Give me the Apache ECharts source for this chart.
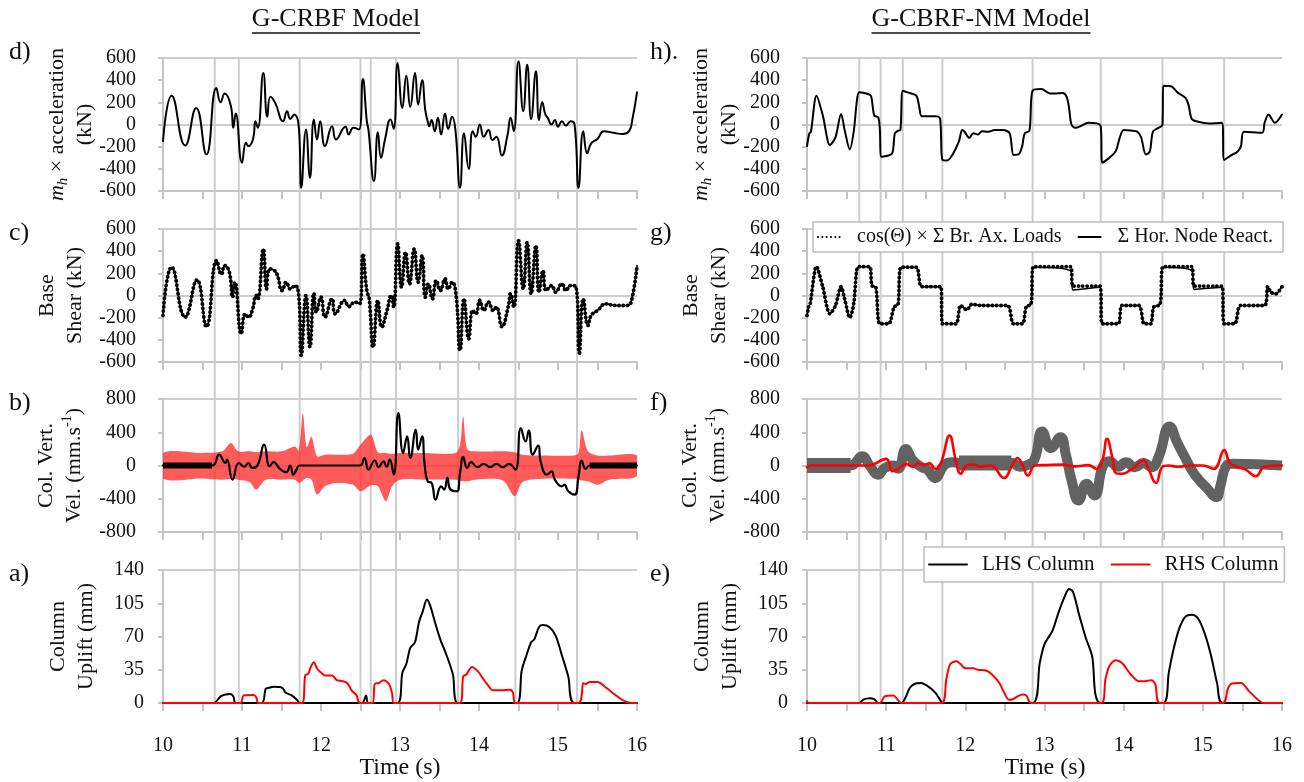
<!DOCTYPE html>
<html>
<head>
<meta charset="utf-8">
<script src="https://cdn.jsdelivr.net/npm/echarts@6/dist/echarts.min.js"></script>
<style>
html,body{margin:0;padding:0;background:#fff;}
#chart{width:1304px;height:782px;}
</style>
</head>
<body>
<div id="chart"></div>
<script>
// ---------- axis ranges ----------
const timeRange = [10, 16];
const forceRange = [-600, 600, 200];
const velRange = [-800, 800, 400];
const upliftRange = [0, 140, 35];

// ---------- event markers (s) ----------
const eventTimesL = [10.655, 10.96, 11.73, 12.50, 12.63, 12.95, 13.735, 14.46, 15.24];
const eventTimesR = [10.66, 10.93, 11.21, 11.71, 12.85, 13.71, 14.49, 15.27];

// ---------- G-CRBF: m_h x acceleration (kN) ----------
const accelL = [[10.0,-150],[10.11,260],[10.28,-190],[10.42,150],[10.55,-270],[10.675,330],[10.73,200],[10.78,280],[10.86,165],[10.89,-30],[10.92,100],[11.0,-345],[11.05,-165],[11.08,-195],[11.14,-130],[11.17,30],[11.2,-30],[11.27,465],[11.32,70],[11.36,250],[11.42,195],[11.52,30],[11.57,120],[11.61,50],[11.66,90],[11.72,-30],[11.75,-570],[11.81,-45],[11.86,-480],[11.91,45],[11.95,-135],[11.99,30],[12.05,-195],[12.14,-15],[12.19,-135],[12.31,-20],[12.35,-90],[12.41,-30],[12.48,-45],[12.53,410],[12.58,30],[12.6,-45],[12.67,-510],[12.72,-70],[12.76,-300],[12.81,-135],[12.88,45],[12.92,-40],[12.97,555],[13.03,150],[13.08,440],[13.13,160],[13.19,465],[13.23,180],[13.28,400],[13.32,130],[13.35,30],[13.37,-15],[13.40,40],[13.44,-60],[13.48,60],[13.52,-90],[13.57,100],[13.61,-40],[13.66,70],[13.70,-40],[13.76,-570],[13.81,-80],[13.87,-400],[13.92,-60],[13.96,-110],[14.01,0],[14.06,-110],[14.12,-50],[14.17,-140],[14.22,-110],[14.29,-280],[14.36,-100],[14.40,60],[14.44,-60],[14.50,570],[14.56,120],[14.61,540],[14.66,50],[14.72,480],[14.76,40],[14.80,200],[14.84,90],[14.87,60],[14.92,0],[14.96,40],[15.0,-20],[15.05,30],[15.1,-10],[15.16,30],[15.21,0],[15.26,-570],[15.32,-60],[15.37,-260],[15.42,-170],[15.50,-130],[15.58,-60],[15.70,-75],[15.82,-85],[15.90,-60],[15.94,40],[16.0,290]];

// ---------- G-CRBF: base shear (kN), brace and node sums coincide ----------
const shearL = [[10.0,-180],[10.11,255],[10.28,-195],[10.43,140],[10.55,-280],[10.68,315],[10.74,190],[10.78,270],[10.84,210],[10.88,-15],[10.91,120],[10.99,-345],[11.04,-165],[11.08,-195],[11.13,-135],[11.18,0],[11.20,-30],[11.27,420],[11.31,60],[11.35,240],[11.43,210],[11.51,45],[11.56,120],[11.61,60],[11.67,90],[11.72,-15],[11.75,-540],[11.81,0],[11.86,-465],[11.91,20],[11.94,-150],[12.0,-15],[12.05,-195],[12.14,-30],[12.18,-165],[12.30,-45],[12.35,-100],[12.43,-60],[12.49,-75],[12.53,375],[12.58,45],[12.61,-30],[12.66,-465],[12.72,-45],[12.77,-285],[12.83,-150],[12.89,0],[12.92,-105],[12.97,465],[13.02,75],[13.07,390],[13.12,105],[13.18,420],[13.23,120],[13.28,360],[13.32,-15],[13.36,105],[13.41,-30],[13.46,135],[13.51,45],[13.57,150],[13.61,60],[13.66,120],[13.71,0],[13.76,-495],[13.81,-30],[13.87,-390],[13.92,-135],[13.96,-165],[14.01,-45],[14.06,-135],[14.12,-60],[14.18,-135],[14.22,-105],[14.29,-280],[14.37,-100],[14.40,15],[14.44,-105],[14.50,495],[14.56,60],[14.61,480],[14.66,15],[14.72,450],[14.76,30],[14.81,225],[14.85,45],[14.92,90],[14.97,30],[15.05,105],[15.10,45],[15.16,90],[15.23,75],[15.27,-520],[15.32,-30],[15.38,-270],[15.42,-180],[15.50,-135],[15.61,-75],[15.72,-90],[15.88,-90],[15.93,-45],[16.0,270]];

// ---------- G-CRBF: column vertical velocity (mm/s) ----------
const rhsVelBandT  = [10.0,10.5,10.75,10.86,10.95,11.1,11.18,11.3,11.5,11.67,11.72,11.77,11.82,11.88,11.95,12.05,12.2,12.4,12.5,12.63,12.72,12.82,12.9,13.0,13.3,13.7,13.76,13.8,13.85,13.95,14.3,14.45,14.55,14.8,15.2,15.26,15.3,15.38,15.5,15.65,16.0];
const rhsVelBandHi = [150,150,170,270,170,170,160,170,170,230,180,630,220,345,110,130,130,140,250,370,160,150,140,150,150,150,250,590,200,170,170,160,130,120,120,150,425,170,120,120,120];
const rhsVelBandLo = [-155,-155,-170,-160,-170,-200,-290,-170,-170,-170,-210,-180,-150,-170,-350,-250,-210,-230,-310,-240,-250,-430,-250,-170,-170,-170,-180,-190,-190,-170,-180,-370,-200,-160,-160,-170,-180,-190,-230,-170,-130];
const lhsVelL = [[10.0,0],[10.62,0],[10.71,130],[10.79,30],[10.81,70],[10.88,-170],[10.96,30],[11.03,-15],[11.08,30],[11.13,-30],[11.2,10],[11.28,250],[11.35,-10],[11.40,40],[11.48,-40],[11.56,-80],[11.61,0],[11.65,-110],[11.69,-50],[11.73,0],[12.49,0],[12.55,90],[12.60,-50],[12.68,60],[12.73,-20],[12.79,50],[12.83,-15],[12.87,70],[12.92,-110],[12.98,630],[13.04,150],[13.09,350],[13.13,90],[13.20,430],[13.23,190],[13.28,350],[13.31,30],[13.35,-190],[13.40,-210],[13.45,-410],[13.52,-250],[13.56,-290],[13.60,-150],[13.64,-290],[13.72,-310],[13.76,-90],[13.80,105],[13.85,-30],[13.90,40],[13.98,-20],[14.06,20],[14.14,-20],[14.22,20],[14.30,-20],[14.38,20],[14.46,-50],[14.53,450],[14.59,290],[14.63,420],[14.68,130],[14.75,240],[14.78,50],[14.86,-110],[14.92,-70],[14.96,-170],[15.05,-250],[15.08,-230],[15.13,-310],[15.21,-350],[15.26,-130],[15.30,60],[15.35,-40],[15.40,0],[16.0,0]];
// spans [start, end, level] where the trace chatters about a steady level
const lhsVelNoiseL = [[10.0, 10.62, 0], [15.40, 16.0, 0]];

// ---------- G-CRBF: column uplift (mm) ----------
const lhsUpL = [[10,0],[10.64,0],[10.73,7],[10.79,9],[10.85,9.5],[10.89,7],[10.92,0],[11.25,0],[11.30,15],[11.34,16],[11.40,17],[11.51,16],[11.55,11],[11.63,8],[11.70,3],[11.73,0],[12.52,0],[12.57,8],[12.60,0],[12.97,0],[13.03,32],[13.08,41],[13.13,58],[13.19,64],[13.24,85],[13.29,97],[13.34,109],[13.38,103],[13.45,83],[13.51,67],[13.59,50],[13.67,30],[13.73,0],[14.48,0],[14.54,34],[14.60,50],[14.66,64],[14.70,67],[14.76,80],[14.81,82],[14.89,80],[14.97,71],[15.05,50],[15.13,28],[15.21,0],[16,0]];
const rhsUpL = [[10,0],[10.98,0],[11.02,8],[11.15,8.5],[11.18,6],[11.21,0],[11.76,0],[11.80,29],[11.84,31],[11.87,38],[11.91,43],[11.95,36],[12.0,32],[12.05,29],[12.14,29],[12.20,24],[12.27,23],[12.33,21],[12.39,13],[12.45,8],[12.49,0],[12.65,0],[12.68,20],[12.73,21],[12.79,24],[12.86,20],[12.90,10],[12.92,0],[13.76,0],[13.80,28],[13.84,30],[13.91,38],[13.99,33],[14.04,27],[14.12,18],[14.17,13.5],[14.28,13.5],[14.39,14],[14.43,11],[14.46,0],[15.26,0],[15.32,21],[15.35,20],[15.40,22],[15.50,22],[15.61,16],[15.72,9],[15.82,3],[15.93,0],[16,0]];

// ---------- G-CBRF-NM: m_h x acceleration (kN) ----------
const accelR = [[10.0,-195],[10.03,-80],[10.05,-65],[10.12,260],[10.20,80],[10.29,-185],[10.36,-115],[10.43,95],[10.48,-65],[10.54,-225],[10.59,-65],[10.63,210],[10.66,290],[10.77,275],[10.81,255],[10.85,80],[10.90,65],[10.92,-40],[10.94,-290],[11.03,-280],[11.08,-255],[11.11,-80],[11.15,-55],[11.18,-50],[11.21,305],[11.27,290],[11.38,260],[11.42,150],[11.45,75],[11.62,75],[11.68,55],[11.71,-320],[11.77,-325],[11.84,-270],[11.92,-150],[11.96,-50],[11.99,-65],[12.05,-120],[12.10,-80],[12.16,-90],[12.21,-60],[12.29,-65],[12.37,-50],[12.48,-50],[12.56,-80],[12.61,-275],[12.68,-265],[12.72,-190],[12.75,-80],[12.81,-55],[12.85,305],[12.96,320],[13.07,280],[13.12,280],[13.23,285],[13.28,250],[13.31,150],[13.34,0],[13.39,-30],[13.47,-10],[13.55,15],[13.66,10],[13.71,-15],[13.73,-345],[13.82,-300],[13.90,-240],[13.95,-120],[14.0,-50],[14.09,-55],[14.17,-65],[14.22,-115],[14.28,-270],[14.33,-245],[14.37,-65],[14.44,-30],[14.49,-5],[14.50,350],[14.60,345],[14.68,290],[14.78,240],[14.82,175],[14.86,50],[14.94,25],[15.08,10],[15.24,15],[15.27,-320],[15.35,-280],[15.43,-250],[15.48,-200],[15.52,-65],[15.75,-75],[15.78,15],[15.83,90],[15.91,15],[16.0,90]];

// ---------- G-CBRF-NM: base shear (kN) ----------
const braceShearR = [[10.0,-180],[10.02,-105],[10.04,-75],[10.12,260],[10.20,75],[10.29,-165],[10.36,-90],[10.43,80],[10.48,-45],[10.54,-200],[10.59,-75],[10.63,240],[10.66,260],[10.79,260],[10.82,90],[10.87,75],[10.92,-255],[11.03,-255],[11.10,-105],[11.15,-80],[11.19,255],[11.38,255],[11.45,80],[11.69,80],[11.71,-255],[11.88,-255],[11.94,-90],[12.02,-130],[12.08,-80],[12.21,-90],[12.53,-90],[12.61,-255],[12.72,-255],[12.77,-100],[12.83,-80],[12.86,260],[13.33,260],[13.36,85],[13.70,85],[13.73,-255],[13.93,-255],[13.98,-90],[14.19,-90],[14.26,-255],[14.34,-255],[14.38,-105],[14.46,-80],[14.50,260],[14.86,260],[14.89,85],[15.24,85],[15.27,-255],[15.40,-255],[15.48,-90],[15.78,-90],[15.82,80],[15.86,30],[15.92,15],[16.0,80]];
const nodeShearR  = [[10.0,-180],[10.02,-105],[10.04,-75],[10.12,260],[10.20,75],[10.29,-165],[10.36,-90],[10.43,80],[10.48,-45],[10.54,-200],[10.59,-75],[10.63,240],[10.66,260],[10.79,260],[10.82,90],[10.87,75],[10.92,-255],[11.03,-255],[11.10,-105],[11.15,-80],[11.19,255],[11.38,255],[11.45,80],[11.69,80],[11.71,-255],[11.88,-255],[11.94,-90],[12.02,-130],[12.08,-80],[12.21,-90],[12.53,-90],[12.61,-255],[12.72,-255],[12.77,-100],[12.83,-80],[12.86,255],[13.33,222],[13.36,50],[13.70,75],[13.73,-255],[13.93,-255],[13.98,-90],[14.19,-90],[14.26,-255],[14.34,-255],[14.38,-105],[14.46,-80],[14.50,255],[14.86,225],[14.89,55],[15.24,75],[15.27,-255],[15.40,-255],[15.48,-90],[15.78,-90],[15.82,80],[15.86,30],[15.92,15],[16.0,80]];

// ---------- G-CBRF-NM: column vertical velocity (mm/s) ----------
const lhsVelR = [[10.0,0],[10.55,0],[10.70,110],[10.79,0],[10.90,-110],[10.98,-30],[11.09,0],[11.15,-40],[11.25,200],[11.33,70],[11.44,-15],[11.52,-50],[11.62,-150],[11.73,0],[11.84,40],[11.94,30],[12.59,30],[12.69,-15],[12.80,10],[12.88,90],[12.97,410],[13.08,210],[13.20,340],[13.27,130],[13.34,-170],[13.43,-420],[13.53,-220],[13.63,-360],[13.74,0],[13.82,50],[13.93,-15],[14.03,40],[14.14,-20],[14.25,30],[14.35,-20],[14.44,100],[14.58,470],[14.68,270],[14.79,70],[14.87,-70],[14.95,-170],[15.05,-270],[15.17,-380],[15.22,-250],[15.29,-15],[15.37,20],[16.0,0]];
const lhsVelNoiseR = [[10.0, 10.55, 0], [11.92, 12.58, 30]];
const rhsVelR = [[10.0,-20],[10.05,0],[10.77,0],[11.0,80],[11.08,-70],[11.15,-40],[11.26,20],[11.33,-15],[11.41,25],[11.47,5],[11.55,25],[11.62,-40],[11.69,25],[11.80,360],[11.88,60],[11.94,-100],[12.02,0],[12.10,10],[12.19,-15],[12.32,0],[12.49,-150],[12.59,0],[12.66,90],[12.72,10],[12.79,-120],[12.88,0],[13.02,5],[13.23,10],[13.39,-10],[13.55,5],[13.66,-40],[13.73,60],[13.79,320],[13.86,80],[13.90,-90],[13.98,-100],[14.09,-50],[14.17,10],[14.25,70],[14.30,-10],[14.41,-210],[14.49,-15],[14.57,0],[14.68,-15],[14.84,0],[15.0,0],[15.14,-40],[15.27,185],[15.34,30],[15.43,-15],[15.54,-50],[15.67,-130],[15.78,-15],[16.0,0]];

// ---------- G-CBRF-NM: column uplift (mm) ----------
const lhsUpR = [[10,0],[10.66,0],[10.71,3.5],[10.79,5],[10.85,4],[10.90,0],[11.19,0],[11.24,5],[11.30,16],[11.37,20.5],[11.44,21],[11.52,18],[11.62,11],[11.69,2],[11.70,0],[12.85,0],[12.94,42],[13.0,62],[13.10,76],[13.18,96],[13.26,113],[13.31,120],[13.36,117],[13.44,92],[13.52,69],[13.60,50],[13.71,0],[14.50,0],[14.57,32],[14.62,53],[14.70,78],[14.78,91],[14.86,93],[14.94,89],[15.02,74],[15.10,51],[15.18,21],[15.25,0],[16,0]];
const rhsUpR = [[10,2],[10.02,0],[10.92,0],[10.98,7],[11.09,8],[11.15,3],[11.19,0],[11.70,0],[11.76,25],[11.81,41],[11.89,44],[11.94,41],[12.0,36.5],[12.10,36.5],[12.16,35],[12.27,34],[12.35,29],[12.43,21],[12.49,11],[12.55,3.5],[12.60,4],[12.66,7],[12.72,9],[12.77,8],[12.83,0],[13.72,0],[13.77,25],[13.82,39],[13.90,45],[13.98,42],[14.09,30],[14.19,23],[14.27,23],[14.35,24],[14.40,19.5],[14.46,0],[15.25,0],[15.32,16],[15.37,20.5],[15.48,21],[15.59,12],[15.69,4],[15.77,0],[16,0]];

// ---------- series names ----------
const BRACE = 'cos(Θ) × Σ Br. Ax. Loads';
const NODE = 'Σ Hor. Node React.';
const LHS = 'LHS Column';
const RHS = 'RHS Column';

// ---------- layout ----------
const FONT = "'Liberation Serif', 'Times New Roman', serif";
const GRID_LEFT = [163, 807];
const GRID_W = [474, 475];
const ROW_TOP = [58, 229, 399, 570];
const ROW_H = 133;
const AXIS_GREY = '#c4c4c4';
const GRID_GREY = '#cdcdcd';
const TEXT = '#111';

const panelDefs = [
  {col:0,row:0,range:forceRange},
  {col:0,row:1,range:forceRange},
  {col:0,row:2,range:velRange},
  {col:0,row:3,range:upliftRange},
  {col:1,row:0,range:forceRange},
  {col:1,row:1,range:forceRange},
  {col:1,row:2,range:velRange},
  {col:1,row:3,range:upliftRange}
];

const grid = [], xAxis = [], yAxis = [];
panelDefs.forEach((p, i) => {
  grid.push({left:GRID_LEFT[p.col], top:ROW_TOP[p.row], width:GRID_W[p.col], height:ROW_H,
             containLabel:false, outerBoundsMode:'none'});
  xAxis.push({
    type:'value', gridIndex:i, min:timeRange[0], max:timeRange[1], interval:0.5,
    axisLine:{onZero:false, lineStyle:{color:AXIS_GREY, width:2}},
    axisTick:{length:8, lineStyle:{color:AXIS_GREY, width:2}},
    splitLine:{show:false},
    axisLabel:{show:p.row === 3, margin:33, fontSize:20, fontFamily:FONT, color:TEXT,
               showMinLabel:true, showMaxLabel:true,
               formatter:v => Number.isInteger(v) ? String(v) : ''}
  });
  // labelled axis
  yAxis.push({
    type:'value', gridIndex:i, min:p.range[0], max:p.range[1], interval:p.range[2],
    axisLine:{show:true, onZero:false, lineStyle:{color:AXIS_GREY, width:2}},
    axisTick:{show:true, length:5, lineStyle:{color:AXIS_GREY, width:2}},
    splitLine:{show:false},
    axisLabel:{margin:p.row === 3 ? 19 : 27, fontSize:20, fontFamily:FONT, color:TEXT}
  });
  // reference lines at zero and at the top of the range
  yAxis.push({
    type:'value', gridIndex:i, min:p.range[0], max:p.range[1], interval:p.range[1],
    axisLine:{show:false}, axisTick:{show:false}, axisLabel:{show:false},
    splitLine:{show:true, lineStyle:{color:GRID_GREY, width:2}}
  });
});

// full-height grids for the event markers in each column
const overlayGrid = [];
[0, 1].forEach(c => {
  const gi = grid.length;
  grid.push({left:GRID_LEFT[c], top:ROW_TOP[0], width:GRID_W[c], height:ROW_TOP[3] + ROW_H - ROW_TOP[0],
             containLabel:false, outerBoundsMode:'none'});
  xAxis.push({type:'value', gridIndex:gi, min:timeRange[0], max:timeRange[1], show:false});
  yAxis.push({type:'value', gridIndex:gi, min:0, max:1, show:false});
  overlayGrid.push({x:xAxis.length - 1, y:yAxis.length - 1});
});

function eventSeries(times, c) {
  return {
    type:'custom', xAxisIndex:overlayGrid[c].x, yAxisIndex:overlayGrid[c].y, silent:true, z:1,
    data:times.map(t => [t, 0]),
    renderItem:(params, api) => {
      const a = api.coord([api.value(0), 0]);
      const b = api.coord([api.value(0), 1]);
      return {type:'line', shape:{x1:a[0], y1:a[1], x2:b[0], y2:b[1]},
              style:{stroke:GRID_GREY, lineWidth:2}};
    }
  };
}

function lineSeries(name, gi, data, color, width, extra) {
  return Object.assign({
    type:'line', name:name, xAxisIndex:gi, yAxisIndex:2 * gi, data:data,
    symbol:'none', showSymbol:false, smooth:0.5, silent:true, z:3,
    lineStyle:{color:color, width:width, cap:'round', join:'round'},
    itemStyle:{color:color}
  }, extra || {});
}

// filled envelope between an upper and a lower trace
function bandSeries(name, gi, t, hi, lo, color) {
  return {
    type:'custom', name:name, xAxisIndex:gi, yAxisIndex:2 * gi, silent:true, z:2, clip:true,
    data:[[t[0], 0]],
    renderItem:(params, api) => {
      const pts = [];
      t.forEach((x, k) => pts.push(api.coord([x, hi[k]])));
      for (let k = t.length - 1; k >= 0; k--) pts.push(api.coord([t[k], lo[k]]));
      return {type:'polygon', shape:{points:pts, smooth:0.3}, style:{fill:color}};
    }
  };
}

// thick strokes along spans where a trace chatters about a steady level
function noiseData(spans) {
  const out = [];
  spans.forEach(s => { out.push([s[0], s[2]], [s[1], s[2]], [s[1], '-']); });
  return out;
}

const dotted = {type:[0.1, 4.2], cap:'round', color:'#000', width:3.8};
const GREY_TRACE = '#626262';

const series = [
  eventSeries(eventTimesL, 0),
  eventSeries(eventTimesR, 1),
  // d) G-CRBF acceleration
  lineSeries('accel G-CRBF', 0, accelL, '#000', 2),
  // c) G-CRBF base shear
  lineSeries(NODE, 1, shearL, '#000', 1.6),
  lineSeries(BRACE, 1, shearL, '#000', 3.8, {lineStyle:dotted}),
  // b) G-CRBF column vertical velocity
  bandSeries('RHS vel G-CRBF', 2, rhsVelBandT, rhsVelBandHi, rhsVelBandLo, 'rgba(255,45,45,0.78)'),
  lineSeries('LHS vel G-CRBF', 2, lhsVelL, '#000', 2.2),
  lineSeries('LHS vel noise G-CRBF', 2, noiseData(lhsVelNoiseL), '#000', 6, {smooth:false, lineStyle:{color:'#000', width:6, cap:'butt'}}),
  // a) G-CRBF uplift
  lineSeries(LHS, 3, lhsUpL, '#000', 2, {smooth:0.3}),
  lineSeries(RHS, 3, rhsUpL, '#ff0000', 2, {smooth:0.3}),
  // h) G-CBRF-NM acceleration
  lineSeries('accel G-CBRF-NM', 4, accelR, '#000', 2, {smooth:0.3}),
  // g) G-CBRF-NM base shear
  lineSeries(NODE, 5, nodeShearR, '#000', 1.6, {smooth:0.3}),
  lineSeries(BRACE, 5, braceShearR, '#000', 3.8, {smooth:0.3, lineStyle:dotted}),
  // f) G-CBRF-NM column vertical velocity
  lineSeries('LHS vel G-CBRF-NM', 6, lhsVelR, GREY_TRACE, 10, {lineStyle:{color:GREY_TRACE, width:10, cap:'butt', join:'round'}}),
  lineSeries('LHS vel noise G-CBRF-NM', 6, noiseData(lhsVelNoiseR), GREY_TRACE, 15, {smooth:false, lineStyle:{color:GREY_TRACE, width:15, cap:'butt'}}),
  lineSeries('RHS vel G-CBRF-NM', 6, rhsVelR, '#ff0000', 2.6, {smooth:0.45}),
  // e) G-CBRF-NM uplift
  lineSeries(LHS, 7, lhsUpR, '#000', 2, {smooth:0.3}),
  lineSeries(RHS, 7, rhsUpR, '#ff0000', 2, {smooth:0.3})
];

// ---------- text ----------
const graphic = [];
function txt(x, y, text, size, style) {
  graphic.push({
    type:'text', x:x, y:y, silent:true, z:10,
    style:Object.assign({text:text, fontSize:size, fontFamily:FONT, fill:TEXT, align:'center', verticalAlign:'middle'}, style || {})
  });
}

// column titles with underline
[['G-CRBF Model', 336, 168], ['G-CBRF-NM Model', 981, 219]].forEach(([t, cx, w]) => {
  txt(cx, 19, t, 26);
  graphic.push({type:'line', silent:true, z:10, shape:{x1:cx - w / 2, y1:33, x2:cx + w / 2, y2:33},
                style:{stroke:TEXT, lineWidth:1.4}});
});

// panel letters
const letters = [['d)', 'c)', 'b)', 'a)'], ['h).', 'g)', 'f)', 'e)']];
const letterY = [52, 233, 403, 574];
[9, 650].forEach((lx, c) => {
  letters[c].forEach((l, r) => txt(lx, letterY[r], l, 26, {align:'left'}));
});

// rotated axis names
const NAME_RICH = {
  n:{fontSize:22, fontFamily:FONT, fill:TEXT, lineHeight:28},
  i:{fontSize:22, fontFamily:FONT, fill:TEXT, lineHeight:28, fontStyle:'italic'},
  s:{fontSize:15, fontFamily:FONT, fill:TEXT, lineHeight:15, fontStyle:'italic', verticalAlign:'bottom'},
  p:{fontSize:14, fontFamily:FONT, fill:TEXT, lineHeight:14, verticalAlign:'top'}
};
const axisNames = [
  {text:'{i|m}{s|h}{n| × acceleration}\n{n|(kN)}', dx:-92},
  {text:'{n|Base}\n{n|Shear (kN)}', dx:-102},
  {text:'{n|Col. Vert.}\n{n|Vel. (mm.s}{p|-1}{n|)}', dx:-103},
  {text:'{n|Column}\n{n|Uplift (mm)}', dx:-91}
];
[0, 1].forEach(c => {
  axisNames.forEach((a, r) => {
    graphic.push({
      type:'text', silent:true, z:10, x:GRID_LEFT[c] + a.dx, y:ROW_TOP[r] + ROW_H / 2, rotation:Math.PI / 2,
      style:{text:a.text, rich:NAME_RICH, fontSize:22, fontFamily:FONT, fill:TEXT, align:'center', verticalAlign:'middle'}
    });
  });
});

// x-axis titles
txt(400, 768, 'Time (s)', 24);
txt(1045, 768, 'Time (s)', 24);

// ---------- legends ----------
const legendBase = {
  orient:'horizontal', itemHeight:12,
  borderColor:'#bdbdbd', borderWidth:1.5, borderRadius:0, backgroundColor:'#fff',
  selectedMode:false, z:8, itemStyle:{opacity:0}
};
const legend = [
  Object.assign({data:[BRACE, NODE], left:813, top:222, itemWidth:22, itemGap:16, padding:[5, 10, 5, 4],
                 textStyle:{fontFamily:FONT, fontSize:20, color:TEXT, padding:[0, 0, 0, 12]}}, legendBase),
  Object.assign({data:[LHS, RHS], left:924, top:547, itemWidth:38, itemGap:16, padding:[7, 6, 7, 4],
                 textStyle:{fontFamily:FONT, fontSize:21, color:TEXT, padding:[0, 0, 0, 10]}}, legendBase)
];

const chart = echarts.init(document.getElementById('chart'), null, {renderer:'canvas', width:1304, height:782});
chart.setOption({
  animation:false,
  backgroundColor:'#fff',
  grid:grid, xAxis:xAxis, yAxis:yAxis,
  legend:legend, graphic:graphic, series:series
});
</script>
</body>
</html>
